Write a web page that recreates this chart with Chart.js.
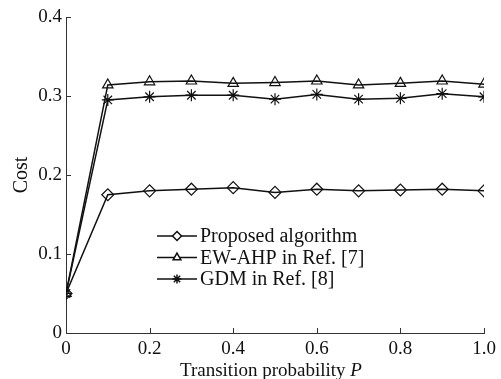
<!DOCTYPE html>
<html>
<head>
<meta charset="utf-8">
<script src="https://cdn.jsdelivr.net/npm/chart.js@4/dist/chart.umd.min.js"></script>
<style>
  html, body { margin: 0; padding: 0; background: #fff; }
  #wrap { width: 501px; height: 379px; }
</style>
</head>
<body>
<div id="wrap"><canvas id="costChart"></canvas></div>
<script>
// Cost vs transition probability
const probs = [0, 0.1, 0.2, 0.3, 0.4, 0.5, 0.6, 0.7, 0.8, 0.9, 1.0];
const proposed = [0.050, 0.175, 0.180, 0.182, 0.184, 0.178, 0.182, 0.180, 0.181, 0.182, 0.180];
const ewAhp = [0.050, 0.314, 0.318, 0.319, 0.316, 0.317, 0.319, 0.314, 0.316, 0.319, 0.315];
const gdm = [0.050, 0.295, 0.299, 0.301, 0.301, 0.296, 0.302, 0.296, 0.297, 0.303, 0.299];
const xTicks = [0, 0.2, 0.4, 0.6, 0.8, 1.0];
const yTicks = [0, 0.1, 0.2, 0.3, 0.4];
const seriesNames = ['Proposed algorithm', 'EW-AHP in Ref. [7]', 'GDM in Ref. [8]'];
const markers = ['rectRot', 'triangle', 'star'];

const serif = '"Liberation Serif", "DejaVu Serif", serif';

function toPoints(vals) {
    return probs.map((p, i) => ({ x: p, y: vals[i] }));
}

function fmt(v) {
    return v === 0 ? '0' : v.toFixed(1);
}

// inward tick marks, x title with italic P, legend inside the plot
const extras = {
    id: 'extras',
    afterDraw(chart) {
        const c = chart.ctx;
        const xs = chart.scales.x, ys = chart.scales.y;
        const area = chart.chartArea;
        c.save();
        c.strokeStyle = '#333';
        c.lineWidth = 1;
        xTicks.forEach(t => {
            const px = Math.round(xs.getPixelForValue(t)) + 0.5;
            c.beginPath();
            c.moveTo(px, area.bottom);
            c.lineTo(px, area.bottom - 5);
            c.stroke();
        });
        yTicks.forEach(t => {
            const py = Math.round(ys.getPixelForValue(t)) + 0.5;
            c.beginPath();
            c.moveTo(area.left, py);
            c.lineTo(area.left + 5, py);
            c.stroke();
        });

        // x title
        c.fillStyle = '#111';
        c.textBaseline = 'alphabetic';
        const part1 = 'Transition probability ';
        c.font = '19px ' + serif;
        const w1 = c.measureText(part1).width;
        const startX = 180;
        c.textAlign = 'left';
        c.fillText(part1, startX, 376);
        c.font = 'italic 19px ' + serif;
        c.fillText('P', startX + w1, 376);

        // legend
        const lx = 157, ly = 236, gap = 21.5;
        c.font = '20px ' + serif;
        c.textBaseline = 'middle';
        seriesNames.forEach((name, i) => {
            const y = ly + i * gap;
            c.strokeStyle = '#111';
            c.lineWidth = 1.5;
            c.beginPath();
            c.moveTo(lx, y);
            c.lineTo(lx + 40, y);
            c.stroke();
            c.fillStyle = '#fff';
            Chart.helpers.drawPoint(c, {
                pointStyle: markers[i], radius: 4.5, rotation: 0, borderWidth: 1.2
            }, lx + 20, y);
            c.fillStyle = '#111';
            c.fillText(name, lx + 43, y + 1);
        });
        c.restore();
    }
};

function makeSet(label, vals, marker) {
    return {
        label: label,
        data: toPoints(vals),
        borderColor: '#111',
        backgroundColor: '#fff',
        borderWidth: 1.5,
        pointStyle: marker,
        pointRadius: 6,
        pointBorderColor: '#111',
        pointBackgroundColor: 'rgba(255,255,255,0)',
        pointBorderWidth: 1.2,
        tension: 0,
        fill: false
    };
}

document.addEventListener('DOMContentLoaded', () => {
    const ctx = document.getElementById('costChart');
    new Chart(ctx, {
        type: 'line',
        data: {
            datasets: [
                makeSet(seriesNames[0], proposed, markers[0]),
                makeSet(seriesNames[1], ewAhp, markers[1]),
                makeSet(seriesNames[2], gdm, markers[2])
            ]
        },
        options: {
            responsive: true,
            maintainAspectRatio: false,
            animation: false,
            layout: { padding: { left: 0, right: 17, top: 17, bottom: 0 } },
            plugins: {
                legend: { display: false },
                tooltip: { enabled: false }
            },
            scales: {
                x: {
                    type: 'linear',
                    min: 0,
                    max: 1,
                    afterFit(s) { s.height = 46; },
                    afterBuildTicks(s) { s.ticks = xTicks.map(v => ({ value: v })); },
                    grid: { display: false, drawTicks: false },
                    border: { display: true, color: '#333', width: 1 },
                    ticks: {
                        color: '#111',
                        padding: 5,
                        font: { family: serif, size: 19 },
                        maxRotation: 0,
                        callback: v => fmt(v)
                    }
                },
                y: {
                    min: 0,
                    max: 0.4,
                    afterFit(s) { s.width = 66; },
                    afterBuildTicks(s) { s.ticks = yTicks.map(v => ({ value: v })); },
                    grid: { display: false, drawTicks: false },
                    border: { display: true, color: '#333', width: 1 },
                    title: {
                        display: true,
                        text: 'Cost',
                        color: '#111',
                        padding: { top: 10, bottom: 0 },
                        font: { family: serif, size: 20 }
                    },
                    ticks: {
                        color: '#111',
                        padding: 4,
                        font: { family: serif, size: 19 },
                        callback: v => fmt(v)
                    }
                }
            }
        },
        plugins: [extras]
    });
});
</script>
</body>
</html>
